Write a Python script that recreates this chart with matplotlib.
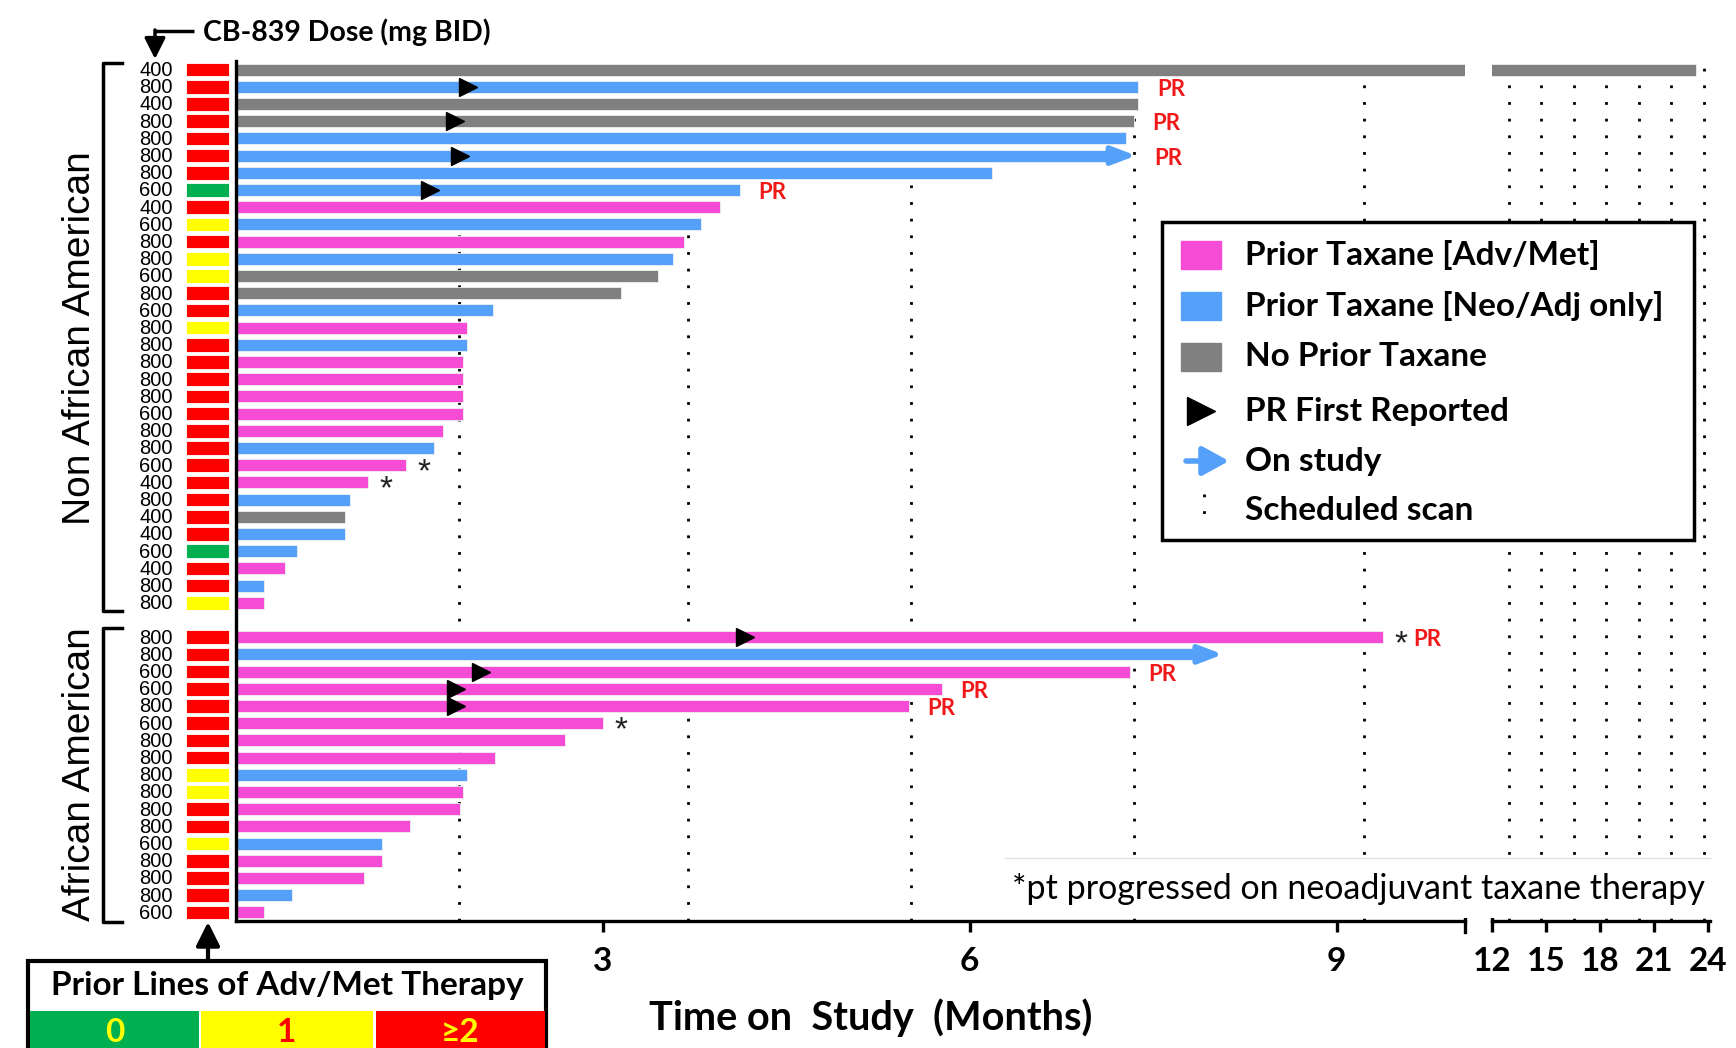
import matplotlib
matplotlib.use('Agg')
import matplotlib.pyplot as plt
from matplotlib.patches import Rectangle
import numpy as np

plt.rcParams['font.family'] = ['Lato', 'DejaVu Sans']

# ---------------- data ----------------
# Non African American patients, top to bottom
non_aa_dose = [400, 800, 400, 800, 800, 800, 800, 600, 400, 600, 800, 800, 600, 800, 600, 800,
               800, 800, 800, 800, 600, 800, 800, 600, 400, 800, 400, 400, 600, 400, 800, 800]
non_aa_lines = [2, 2, 2, 2, 2, 2, 2, 0, 2, 1, 2, 1, 1, 2, 2, 1,
                2, 2, 2, 2, 2, 2, 2, 2, 2, 2, 2, 2, 0, 2, 2, 1]
non_aa_taxane = ['none', 'neo', 'none', 'none', 'neo', 'neo', 'neo', 'neo', 'adv', 'neo', 'adv', 'neo',
                 'none', 'none', 'neo', 'adv', 'neo', 'adv', 'adv', 'adv', 'adv', 'adv', 'neo', 'adv',
                 'adv', 'neo', 'none', 'neo', 'neo', 'adv', 'neo', 'adv']
non_aa_months = [23.3, 7.38, 7.38, 7.34, 7.28, 7.12, 6.18, 4.12, 3.96, 3.80, 3.66, 3.57, 3.45, 3.15,
                 2.10, 1.89, 1.89, 1.86, 1.86, 1.86, 1.86, 1.69, 1.62, 1.39, 1.08, 0.93, 0.89, 0.89,
                 0.50, 0.40, 0.23, 0.23]

# African American patients, top to bottom
aa_dose = [800, 800, 600, 600, 800, 600, 800, 800, 800, 800, 800, 800, 600, 800, 800, 800, 600]
aa_lines = [2, 2, 2, 2, 2, 2, 2, 2, 1, 1, 2, 2, 1, 2, 2, 2, 2]
aa_taxane = ['adv', 'neo', 'adv', 'adv', 'adv', 'adv', 'adv', 'adv', 'neo', 'adv', 'adv', 'adv',
             'neo', 'adv', 'adv', 'neo', 'adv']
aa_months = [9.38, 7.84, 7.31, 5.77, 5.50, 3.00, 2.69, 2.12, 1.89, 1.86, 1.83, 1.42, 1.19, 1.19,
             1.05, 0.46, 0.23]

# PR first reported (row within group, month)
non_aa_pr_first_rows = [1, 3, 5, 7]
non_aa_pr_first = [1.90, 1.79, 1.83, 1.59]
aa_pr_first_rows = [0, 2, 3, 4]
aa_pr_first = [4.16, 2.00, 1.80, 1.80]

# still on study (arrow tip)
non_aa_arrow_rows = [5]
non_aa_arrow_tip = [7.36]
aa_arrow_rows = [1]
aa_arrow_tip = [8.07]

# PR labels and asterisks
non_aa_pr_rows = [1, 3, 5, 7]
aa_pr_rows = [0, 2, 3, 4]
non_aa_star_rows = [23, 24]
aa_star_rows = [0, 5]

scan_months = [1.82, 3.70, 5.52, 7.34, 9.22, 12.93, 14.72, 16.53, 18.33, 20.14, 21.94, 23.78]

tax_colors = {'adv': '#F64BD5', 'neo': '#55A0F8', 'none': '#808080'}
line_colors = {0: '#00B050', 1: '#FFFF00', 2: '#FF0000'}
pr_red = '#F01818'
arial = ['Liberation Sans', 'DejaVu Sans']

# ---------------- layout ----------------
W, H = 1736, 1048
fig = plt.figure(figsize=(W / 100, H / 100), dpi=100)


def fax(x0, y0, x1, y1):
    return [x0 / W, 1 - y1 / H, (x1 - x0) / W, (y1 - y0) / H]


ax1 = fig.add_axes(fax(236, 61, 1465, 921))
ax2 = fig.add_axes(fax(1492, 61, 1710, 921))
ov = fig.add_axes([0, 0, 1, 1])
ov.set_xlim(0, W)
ov.set_ylim(H, 0)
ov.axis('off')
ov.patch.set_visible(False)
ov.set_zorder(3)

n_non = len(non_aa_dose)
y_non = np.arange(n_non)
y_aa = np.arange(len(aa_dose)) + n_non + 1

ys = np.concatenate([y_non, y_aa])
months = non_aa_months + aa_months
taxane = non_aa_taxane + aa_taxane
lines = non_aa_lines + aa_lines
dose = non_aa_dose + aa_dose

for ax in (ax1, ax2):
    for s in scan_months:
        ax.axvline(s, color='black', lw=2, ls=(0, (1, 5)), zorder=1)
    ax.barh(ys, months, height=0.7, color=[tax_colors[t] for t in taxane],
            edgecolor='#f0f0f0', linewidth=0.6, zorder=2)
    ax.set_ylim(49.5, -0.5)
    ax.set_yticks([])
    for sp in ('top', 'right'):
        ax.spines[sp].set_visible(False)
    ax.spines['bottom'].set_linewidth(2.4)
    ax.tick_params(axis='x', direction='out', length=8, width=2.4, pad=11, labelsize=24)

ax2.spines['left'].set_visible(False)
ax1.spines['left'].set_linewidth(2.4)
ax1.set_xlim(0, 10.05)
ax2.set_xlim(12, 24.1)
ax1.set_xticks([3, 6, 9])
ax2.set_xticks([12, 15, 18, 21, 24])
for ax in (ax1, ax2):
    for lab in ax.get_xticklabels():
        lab.set_fontweight('bold')

# break caps
ax1.plot([1, 1], [-0.013, 0.008], transform=ax1.transAxes, color='black', lw=2.4, clip_on=False)
ax2.plot([0, 0], [0, 0.008], transform=ax2.transAxes, color='black', lw=2.4, clip_on=False)

# prior-lines color boxes and dose labels
ax1.barh(ys, 0.35, left=-0.41, height=0.8, color=[line_colors[v] for v in lines],
         edgecolor='white', linewidth=0.6, clip_on=False)
for yy, d in zip(ys, dose):
    ax1.text(-0.655, yy + 0.05, str(d), ha='center', va='center', fontsize=14.5,
             family=arial, clip_on=False)

# PR first reported
ax1.plot(non_aa_pr_first, y_non[non_aa_pr_first_rows], ls='none', marker='>', ms=13,
         color='black', zorder=4)
ax1.plot(aa_pr_first, y_aa[aa_pr_first_rows], ls='none', marker='>', ms=13,
         color='black', zorder=4)

# on-study arrows
blue = tax_colors['neo']
arrow_ends = {}
for rows, tips, yarr, marr in ((non_aa_arrow_rows, non_aa_arrow_tip, y_non, non_aa_months),
                               (aa_arrow_rows, aa_arrow_tip, y_aa, aa_months)):
    for r, tip in zip(rows, tips):
        ax1.annotate('', xy=(tip, yarr[r]), xytext=(marr[r] - 0.02, yarr[r]),
                     arrowprops=dict(arrowstyle='-|>,head_length=1.1,head_width=0.42',
                                     color=blue, lw=4, shrinkA=0, shrinkB=0,
                                     mutation_scale=13), zorder=3)
        arrow_ends[yarr[r]] = tip

# PR labels and asterisks
star_y = set(y_non[non_aa_star_rows]) | set(y_aa[aa_star_rows])
for yy in list(y_non[non_aa_pr_rows]) + list(y_aa[aa_pr_rows]):
    end = arrow_ends.get(yy, months[list(ys).index(yy)])
    dx = 0.25 if yy in star_y else 0.15
    ax1.text(end + dx, yy + 0.15, 'PR', color=pr_red, fontsize=16, fontweight='bold',
             ha='left', va='center', zorder=5)
for yy in star_y:
    end = months[list(ys).index(yy)]
    ax1.text(end + 0.15, yy + 0.45, '*', color='#222222', fontsize=24, family=arial,
             ha='center', va='center', zorder=5)

# ---------------- annotations ----------------
ov.text(203, 32, 'CB-839 Dose (mg BID)', ha='left', va='center', fontsize=20.5, fontweight='bold')
ov.plot([194, 155], [31, 31], color='black', lw=2.5, solid_capstyle='butt')
ov.annotate('', xy=(155, 59), xytext=(155, 30),
            arrowprops=dict(arrowstyle='-|>,head_length=0.9,head_width=0.45', color='black',
                            lw=2.5, shrinkA=0, shrinkB=0, mutation_scale=14))

# group brackets
ov.plot([122, 103, 103, 122], [63, 63, 611, 611], color='black', lw=2.5)
ov.plot([122, 103, 103, 122], [628, 628, 922, 922], color='black', lw=2.5)
ov.text(80, 338, 'Non African American', rotation=90, ha='center', va='center', fontsize=28,
        family=arial)
ov.text(80, 774, 'African American', rotation=90, ha='center', va='center', fontsize=28,
        family=arial)

# legend box
ov.add_patch(Rectangle((1162, 222), 532, 318, facecolor='white', edgecolor='black', lw=2.5, zorder=10))
leg_labels = ['Prior Taxane [Adv/Met]', 'Prior Taxane [Neo/Adj only]', 'No Prior Taxane',
              'PR First Reported', 'On study', 'Scheduled scan']
leg_y = [255, 306, 357, 411, 461, 510]
for key, yy in zip(['adv', 'neo', 'none'], leg_y[:3]):
    ov.add_patch(Rectangle((1181, yy - 14), 40, 28, color=tax_colors[key], zorder=11))
ov.plot([1201], [leg_y[3]], marker='>', ms=20, color='black', zorder=11)
ov.annotate('', xy=(1229, leg_y[4]), xytext=(1186, leg_y[4]),
            arrowprops=dict(arrowstyle='-|>,head_length=1.0,head_width=0.55', color=blue,
                            lw=4, shrinkA=0, shrinkB=0, mutation_scale=16), zorder=11)
ov.plot([1204, 1204], [494, 527], color='black', lw=2, ls=(0, (1, 5)), zorder=11)
for lab, yy in zip(leg_labels, leg_y):
    ov.text(1245, yy, lab, ha='left', va='center', fontsize=24, fontweight='bold', zorder=12)

# footnote
ov.add_patch(Rectangle((1005, 858), 705, 60, facecolor='white', edgecolor='none', zorder=8))
ov.plot([1005, 1710], [858, 858], color='#e2e2e2', lw=1, zorder=9)
ov.text(1012, 889, '*pt progressed on neoadjuvant taxane therapy', ha='left', va='center',
        fontsize=24.5, zorder=9)

# axis title
ov.text(871, 1018, 'Time on  Study  (Months)', ha='center', va='center', fontsize=28.5,
        fontweight='bold')

# prior lines key
ov.add_patch(Rectangle((28, 961), 518, 110, facecolor='white', edgecolor='black', lw=3, zorder=6))
ov.text(287, 986, 'Prior Lines of Adv/Met Therapy', ha='center', va='center', fontsize=24,
        fontweight='bold', zorder=7)
key_cells = [(30, 199, '#00B050', '0', '#FFFF00'),
             (201, 373, '#FFFF00', '1', '#FF0000'),
             (376, 545, '#FF0000', '\u22652', '#FFFF00')]
for x0, x1, fc, txt, tc in key_cells:
    ov.add_patch(Rectangle((x0, 1011), x1 - x0, 50, facecolor=fc, edgecolor='none', zorder=7))
    ov.text((x0 + x1) / 2, 1033, txt, ha='center', va='center', fontsize=24, fontweight='bold',
            color=tc, zorder=8)
ov.annotate('', xy=(208, 922), xytext=(208, 962),
            arrowprops=dict(arrowstyle='-|>,head_length=0.9,head_width=0.45', color='black',
                            lw=3, shrinkA=0, shrinkB=0, mutation_scale=16))

fig.savefig('out.png', dpi=100)
